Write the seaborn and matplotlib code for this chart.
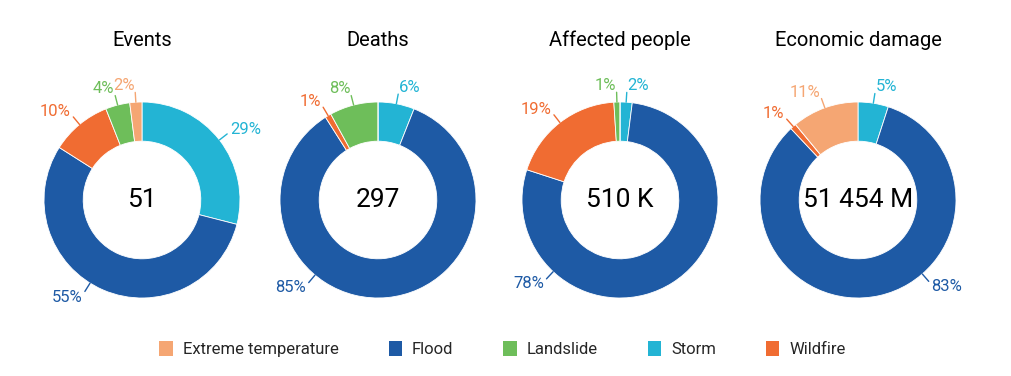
import numpy as np
import seaborn as sns
import matplotlib.pyplot as plt
from matplotlib.patches import Patch

# data (clockwise from 12 o'clock)
categories = ["Storm", "Flood", "Wildfire", "Landslide", "Extreme temperature"]
legend_order = ["Extreme temperature", "Flood", "Landslide", "Storm", "Wildfire"]
titles = ["Events", "Deaths", "Affected people", "Economic damage"]
totals = ["51", "297", "510 K", "51 454 M"]
events = [29, 55, 10, 4, 2]
deaths = [6, 85, 1, 8, 0]
affected = [2, 78, 19, 1, 0]
economic = [5, 83, 1, 0, 11]
series = [events, deaths, affected, economic]

colors = {
    "Extreme temperature": "#F5A673",
    "Flood": "#1E5AA5",
    "Landslide": "#6EBE5A",
    "Storm": "#23B4D4",
    "Wildfire": "#F06C32",
}
# where the big flood label sits (degrees clockwise from top)
flood_label_angle = [212, 220, 223, 139]

sns.set_theme(style="white")
plt.rcParams["font.family"] = ["Roboto", "DejaVu Sans"]

fig = plt.figure(figsize=(10.11, 3.76), dpi=100)
W, H = 1011, 376
centers = [142, 378, 620, 858]
cy = 176
half = 140
unit = 98.0
lim = half / unit

for i, vals in enumerate(series):
    cx = centers[i]
    ax = fig.add_axes([(cx - half) / W, (cy - half) / H, 2 * half / W, 2 * half / H])
    cols = [colors[c] for c in categories]
    ax.pie(vals, colors=cols, startangle=90, counterclock=False, radius=1,
           wedgeprops=dict(width=0.4, edgecolor="white", linewidth=0.6))
    ax.set_xlim(-lim, lim)
    ax.set_ylim(-lim, lim)
    ax.set_aspect("equal")
    ax.axis("off")

    total = sum(vals)
    cum = 0
    for cat, v in zip(categories, vals):
        if v == 0:
            continue
        mid = (cum + v / 2) / total * 360
        cum += v
        if cat == "Flood":
            mid = flood_label_angle[i]
        t = np.deg2rad(mid)
        dx, dy = np.sin(t), np.cos(t)
        c = colors[cat]
        ax.plot([dx * 1.0, dx * 1.1], [dy * 1.0, dy * 1.1], color=c, lw=1, clip_on=False)
        ha = "left" if dx > 0.02 else "right"
        ax.text(dx * 1.14, dy * 1.17, f"{v}%", color=c, fontsize=12,
                ha=ha, va="center", clip_on=False)

    ax.text(0, 0, totals[i], fontsize=19, ha="center", va="center", color="black")
    ax.text(0, 1.63, titles[i], fontsize=14.5, ha="center", va="center",
            color="black", clip_on=False)

handles = [Patch(facecolor=colors[c], edgecolor="none", label=c) for c in legend_order]
fig.legend(handles=handles, loc="center", bbox_to_anchor=(0.497, 0.072), ncol=5,
           frameon=False, fontsize=12, handlelength=0.8, handleheight=1.0,
           handletextpad=0.6, columnspacing=3.0)

fig.savefig("out.png", dpi=100)
